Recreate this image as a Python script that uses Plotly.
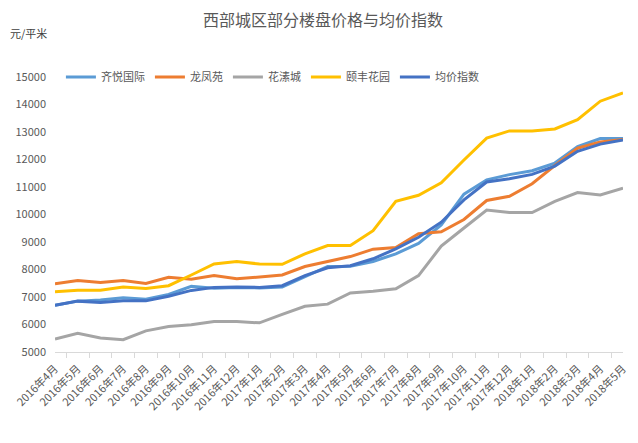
import plotly.graph_objects as go

months = [f"2016年{m}月" for m in range(4, 13)] + [f"2017年{m}月" for m in range(1, 13)] + [f"2018年{m}月" for m in range(1, 6)]

qiyue = [6700, 6850, 6890, 6970, 6920, 7090, 7390, 7320, 7350, 7330, 7360, 7740, 8110,
         8120, 8290, 8570, 8950, 9620, 10740, 11260, 11450, 11590, 11870, 12470, 12760, 12760]
longfeng = [7480, 7600, 7530, 7600, 7490, 7720, 7650, 7780, 7660, 7740, 7800, 8110, 8300,
            8470, 8740, 8800, 9300, 9370, 9820, 10510, 10660, 11120, 11780, 12410, 12640, 12730]
huayang = [5470, 5680, 5510, 5450, 5770, 5930, 5990, 6110, 6110, 6060, 6370, 6660, 6740,
           7150, 7210, 7300, 7780, 8850, 9510, 10160, 10070, 10070, 10480, 10800, 10710, 10960]
yifeng = [7190, 7250, 7250, 7360, 7310, 7410, 7800, 8200, 8290, 8200, 8190, 8570, 8870,
          8870, 9410, 10480, 10700, 11150, 11980, 12780, 13040, 13040, 13110, 13450, 14120, 14420]
junjia = [6700, 6850, 6800, 6860, 6860, 7030, 7240, 7350, 7360, 7350, 7410, 7780, 8060,
          8140, 8390, 8750, 9170, 9720, 10530, 11180, 11300, 11460, 11760, 12300, 12560, 12710]

series = [("齐悦国际", qiyue, "#5B9BD5"), ("龙凤苑", longfeng, "#ED7D31"),
          ("花溸城", huayang, "#A5A5A5"), ("颐丰花园", yifeng, "#FFC000"),
          ("均价指数", junjia, "#4472C4")]

FONT = "Noto Sans CJK SC"
fig = go.Figure()
for name, vals, color in series:
    fig.add_trace(go.Scatter(x=months, y=vals, name=name, mode="lines",
                             line=dict(color=color, width=3)))

# page body has an 8px default margin, so the figure is sized/offset to compensate
fig.update_layout(
    width=630, height=435,
    margin=dict(l=47, r=15, t=69, b=91, autoexpand=False),
    paper_bgcolor="white", plot_bgcolor="white",
    font=dict(family=FONT, color="#595959", size=11),
    title=dict(text="西部城区部分楼盘价格与均价指数", x=0.5, xanchor="center", y=0.972, yanchor="middle",
               font=dict(size=16, color="#595959", family=FONT)),
    legend=dict(orientation="h", xref="container", x=0.084, xanchor="left", y=1.0, yanchor="middle",
                font=dict(size=11, color="#595959", family=FONT),
                bgcolor="rgba(0,0,0,0)", itemwidth=30, tracegroupgap=0),
    showlegend=True,
)
fig.update_xaxes(type="category", showgrid=False, showline=True, linecolor="#D9D9D9", linewidth=1,
                 ticks="outside", ticklen=5, tickcolor="#D9D9D9", tickson="boundaries",
                 tickangle=-45, tickfont=dict(size=11, color="#595959"), ticklabelstandoff=5)
fig.update_yaxes(range=[5000, 15000], dtick=1000, tickformat="d", showgrid=False, zeroline=False,
                 showline=False, tickfont=dict(size=11, color="#595959"), ticks="", ticklabelstandoff=8)
fig.add_annotation(text="元/平米", xref="paper", yref="paper", x=-0.0827, y=1.16, xanchor="left",
                   yanchor="middle", showarrow=False, font=dict(size=11, color="#404040", family=FONT))
fig.write_html("out.html")
